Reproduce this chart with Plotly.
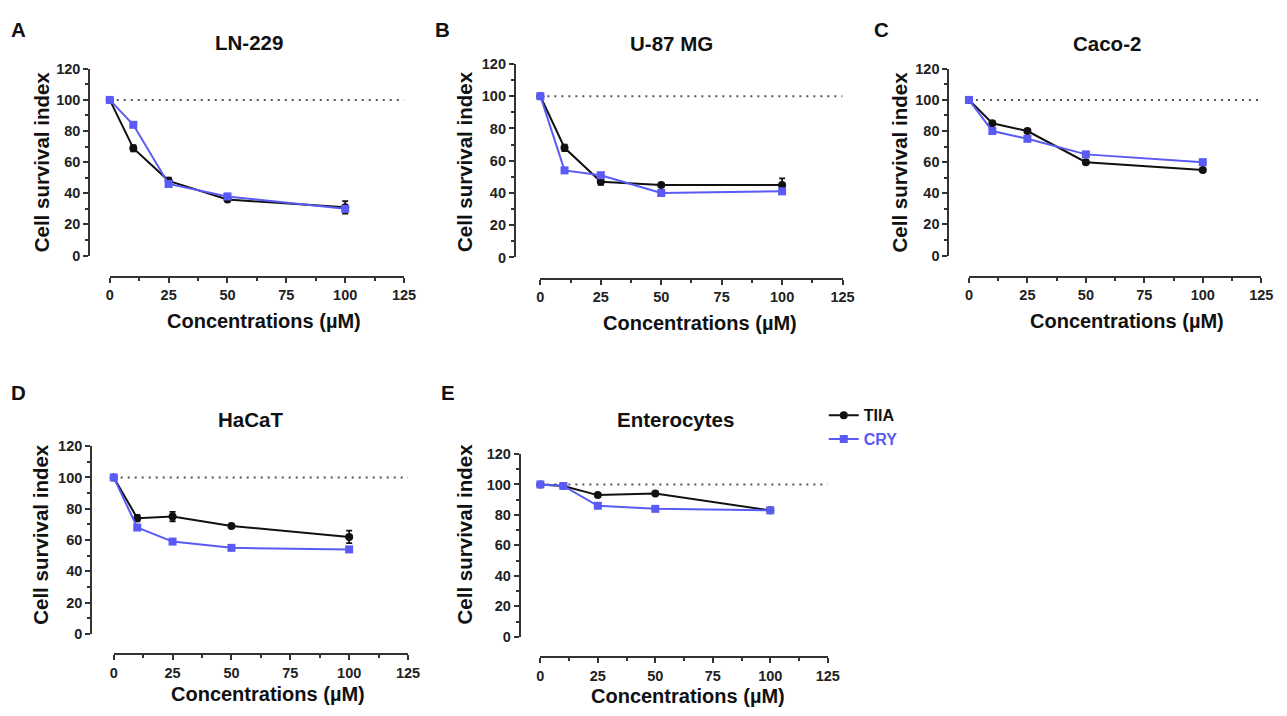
import plotly.graph_objects as go

# The page body keeps the browser's default 8px margin; the figure starts 8px
# in from the window's corner, so picture pixels are mapped with that offset.
W, H = 1287, 716
BODY_MARGIN = 8

concentrations = [0, 10, 25, 50, 100]

panel_letters = ["A", "B", "C", "D", "E"]
panel_titles = ["LN-229", "U-87 MG", "Caco-2", "HaCaT", "Enterocytes"]

tiia_values = [
    [100, 69, 48, 36, 31],
    [100, 68, 47, 45, 45],
    [100, 85, 80, 60, 55],
    [100, 74, 75, 69, 62],
    [100, 99, 93, 94, 83],
]
tiia_errors = [
    [0, 2, 2, 1, 4],
    [0, 2, 2, 1, 4],
    [0, 1, 1, 1, 1],
    [0, 2, 3, 1, 4],
    [0, 1, 1, 1, 1],
]
cry_values = [
    [100, 84, 46, 38, 30],
    [100, 54, 51, 40, 41],
    [100, 80, 75, 65, 60],
    [100, 68, 59, 55, 54],
    [100, 99, 86, 84, 83],
]
cry_errors = [
    [0, 1, 1, 1, 1],
    [0, 1, 1, 1, 1],
    [0, 1, 1, 1, 1],
    [0, 1, 1, 1, 1],
    [0, 1, 1, 1, 1],
]
reference_level = 100
x_range = [0, 125]
y_range = [0, 120]
x_ticks = [0, 25, 50, 75, 100, 125]
y_ticks = [0, 20, 40, 60, 80, 100, 120]

series_names = ["TIIA", "CRY"]
BLACK = "#111111"
BLUE = "#5a5af5"

# pixel geometry (as seen in the picture) of each panel
geom = [
    dict(ylx=86, x0=107, x1=405, yt=62, yb=253, xly=275,
         title=(248, 35), letter=(15, 22), ytitle=(38, 157), xtitle=(263, 320)),
    dict(ylx=517, x0=543, x1=849, yt=57, yb=255, xly=277,
         title=(676, 36), letter=(444, 22), ytitle=(466, 157), xtitle=(705, 322)),
    dict(ylx=956, x0=977, x1=1273, yt=62, yb=253, xly=275,
         title=(1117, 36), letter=(888, 22), ytitle=(907, 157), xtitle=(1137, 320)),
    dict(ylx=88, x0=111, x1=409, yt=448, yb=640, xly=661,
         title=(250, 421), letter=(15, 393), ytitle=(37, 538), xtitle=(267, 702)),
    dict(ylx=522, x0=543, x1=834, yt=456, yb=643, xly=664,
         title=(680, 421), letter=(449, 393), ytitle=(466, 538), xtitle=(693, 704)),
]

FONT = "Liberation Sans, Arial, sans-serif"

def px(x):
    return (x - BODY_MARGIN) / W

def py(y):
    return 1 - (y - BODY_MARGIN) / H

fig = go.Figure()
layout = dict(
    width=W, height=H,
    margin=dict(l=0, r=0, t=0, b=0),
    paper_bgcolor="white", plot_bgcolor="white",
    font=dict(family=FONT, color="#222222"),
    showlegend=True,
    annotations=[], shapes=[],
)

for i in range(5):
    g = geom[i]
    sfx = "" if i == 0 else str(i + 1)
    xa, ya = "x" + sfx, "y" + sfx
    axis_common = dict(
        showgrid=False, zeroline=False, showline=True, linecolor="#333333",
        linewidth=1.6, ticks="outside", ticklen=5, tickwidth=1.5, tickcolor="#333333",
        tickfont=dict(family=FONT, size=14.5, color="#222222", weight="bold"),
        fixedrange=True,
    )
    layout["xaxis" + sfx] = dict(
        axis_common, domain=[px(g["x0"]), px(g["x1"])], range=x_range,
        anchor="free", position=py(g["xly"]), tickvals=x_ticks,
        minor=dict(dtick=12.5, tick0=0, ticklen=3, tickwidth=1.5, tickcolor="#333333", ticks="outside"),
    )
    layout["yaxis" + sfx] = dict(
        axis_common, domain=[py(g["yb"]), py(g["yt"])], range=y_range,
        anchor="free", position=px(g["ylx"]), tickvals=y_ticks,
        minor=dict(dtick=10, tick0=0, ticklen=3, tickwidth=1.5, tickcolor="#333333", ticks="outside"),
    )
    layout["shapes"].append(dict(
        type="line", xref=xa, yref=ya, x0=x_range[0], x1=x_range[1],
        y0=reference_level, y1=reference_level,
        line=dict(color="#555555", width=2, dash="2px,5px"), layer="below",
    ))
    fig.add_trace(go.Scatter(
        x=concentrations, y=tiia_values[i], xaxis=xa, yaxis=ya,
        mode="lines+markers", name=series_names[0],
        line=dict(color=BLACK, width=2), marker=dict(color=BLACK, size=8, symbol="circle"),
        error_y=dict(type="data", array=tiia_errors[i], color=BLACK, thickness=1.8, width=3),
        cliponaxis=False, showlegend=(i == 4),
    ))
    fig.add_trace(go.Scatter(
        x=concentrations, y=cry_values[i], xaxis=xa, yaxis=ya,
        mode="lines+markers",
        name="<span style='color:%s'>%s</span>" % (BLUE, series_names[1]),
        line=dict(color=BLUE, width=2), marker=dict(color=BLUE, size=8, symbol="square"),
        error_y=dict(type="data", array=cry_errors[i], color=BLUE, thickness=1.5, width=3),
        cliponaxis=False, showlegend=(i == 4),
    ))
    ann = layout["annotations"]
    ann.append(dict(text="<b>%s</b>" % panel_titles[i], x=px(g["title"][0]), y=py(g["title"][1]),
                    xref="paper", yref="paper", showarrow=False, xanchor="center", yanchor="middle",
                    font=dict(family=FONT, size=20.5, color="#111111")))
    ann.append(dict(text="<b>%s</b>" % panel_letters[i], x=px(g["letter"][0]), y=py(g["letter"][1]),
                    xref="paper", yref="paper", showarrow=False, xanchor="center", yanchor="middle",
                    font=dict(family=FONT, size=20.5, color="#111111")))
    ann.append(dict(text="<b>Cell survival index</b>", x=px(g["ytitle"][0]), y=py(g["ytitle"][1]),
                    xref="paper", yref="paper", showarrow=False, xanchor="center", yanchor="middle",
                    textangle=-90, font=dict(family=FONT, size=20.5, color="#111111")))
    ann.append(dict(text="<b>Concentrations (µM)</b>", x=px(g["xtitle"][0]), y=py(g["xtitle"][1]),
                    xref="paper", yref="paper", showarrow=False, xanchor="center", yanchor="middle",
                    font=dict(family=FONT, size=20, color="#111111")))

layout["legend"] = dict(
    x=px(830), y=py(399), xanchor="left", yanchor="top",
    bgcolor="rgba(0,0,0,0)", borderwidth=0, itemwidth=30,
    font=dict(family=FONT, size=16, color=BLACK, weight="bold"),
    tracegroupgap=2,
)

fig.update_layout(**layout)
fig.write_html("out.html")
